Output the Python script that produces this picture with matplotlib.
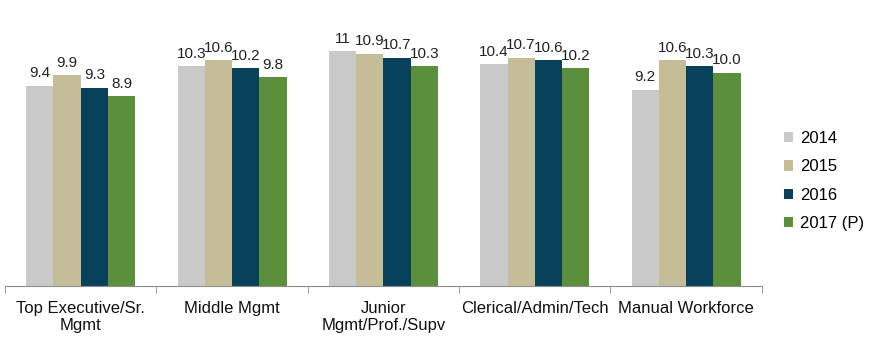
import matplotlib
matplotlib.use('Agg')
import matplotlib.pyplot as plt
import numpy as np
plt.rcParams['font.family'] = ['Liberation Sans', 'DejaVu Sans']

categories = ['Top Executive/Sr.\nMgmt', 'Middle Mgmt', 'Junior\nMgmt/Prof./Supv',
              'Clerical/Admin/Tech', 'Manual Workforce']
series = ['2014', '2015', '2016', '2017 (P)']
v2014 = [9.4, 10.3, 11.0, 10.4, 9.2]
v2015 = [9.9, 10.6, 10.9, 10.7, 10.6]
v2016 = [9.3, 10.2, 10.7, 10.6, 10.3]
v2017 = [8.9, 9.8, 10.3, 10.2, 10.0]
labels2014 = ['9.4', '10.3', '11', '10.4', '9.2']
labels2015 = ['9.9', '10.6', '10.9', '10.7', '10.6']
labels2016 = ['9.3', '10.2', '10.7', '10.6', '10.3']
labels2017 = ['8.9', '9.8', '10.3', '10.2', '10.0']

colors = ['#C9C9C9', '#C4BD97', '#07415A', '#5C8F3C']

fig = plt.figure(figsize=(8.83, 3.5), dpi=100)
ax = fig.add_axes([0.0057, 0.183, 0.857, 0.731])
x = np.arange(len(categories))
w = 0.18
allvals = [v2014, v2015, v2016, v2017]
alllabs = [labels2014, labels2015, labels2016, labels2017]
for i, (vals, labs) in enumerate(zip(allvals, alllabs)):
    xs = x + (i - 1.5) * w
    ax.bar(xs, vals, width=w, color=colors[i], label=series[i])
    for xi, v, t in zip(xs, vals, labs):
        ax.text(xi, v + 0.25, t, ha='center', va='bottom', fontsize=11, color='#222222')

ax.set_xlim(-0.5, len(categories) - 0.5)
ax.set_ylim(0, 12)
ax.set_yticks([])
for s in ['left', 'right', 'top']:
    ax.spines[s].set_visible(False)
ax.spines['bottom'].set_color('#8C8C8C')
ax.set_xticks(np.arange(-0.5, len(categories)), minor=True)
ax.set_xticks(x)
ax.set_xticklabels(categories, fontsize=12, color='#111111', linespacing=1.15)
ax.tick_params(axis='x', which='major', length=0, pad=11)
ax.tick_params(axis='x', which='minor', length=5, color='#8C8C8C')

ax.legend(loc='center left', bbox_to_anchor=(1.01, 0.41), frameon=False, fontsize=12,
          handlelength=0.55, handleheight=0.55, handletextpad=0.4, labelspacing=0.8)

plt.savefig('out.png', dpi=100, facecolor='white')
